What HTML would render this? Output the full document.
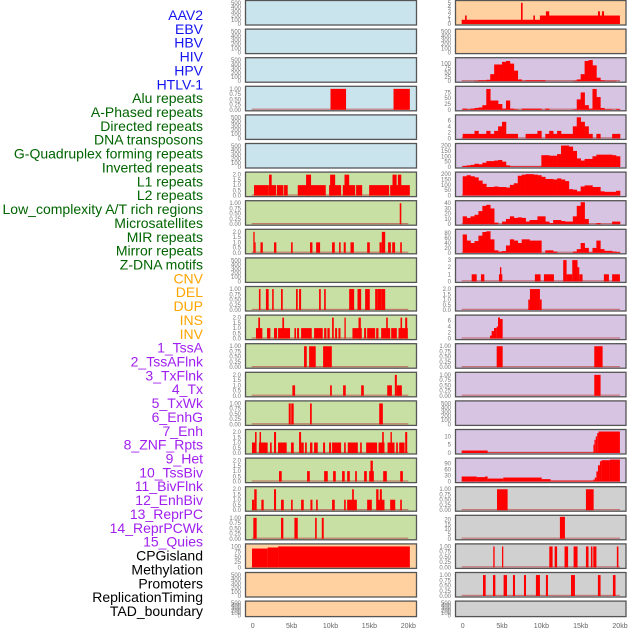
<!DOCTYPE html>
<html><head><meta charset="utf-8"><style>
html,body{margin:0;padding:0;background:#fff;width:630px;height:630px;overflow:hidden}
svg{display:block;font-family:"Liberation Sans",sans-serif}
</style></head><body>
<svg id="chart" width="630" height="630" viewBox="0 0 630 630"></svg>
<script>
const trackNames=["AAV2","EBV","HBV","HIV","HPV","HTLV-1","Alu repeats","A-Phased repeats","Directed repeats","DNA transposons","G-Quadruplex forming repeats","Inverted repeats","L1 repeats","L2 repeats","Low_complexity A/T rich regions","Microsatellites","MIR repeats","Mirror repeats","Z-DNA motifs","CNV","DEL","DUP","INS","INV","1_TssA","2_TssAFlnk","3_TxFlnk","4_Tx","5_TxWk","6_EnhG","7_Enh","8_ZNF_Rpts","9_Het","10_TssBiv","11_BivFlnk","12_EnhBiv","13_ReprPC","14_ReprPCWk","15_Quies","CPGisland","Methylation","Promoters","ReplicationTiming","TAD_boundary"];
const trackGroups=["v","v","v","v","v","v","r","r","r","r","r","r","r","r","r","r","r","r","r","s","s","s","s","s","c","c","c","c","c","c","c","c","c","c","c","c","c","c","c","o","o","o","o","o"];
const xTickValues=[0,5,10,15,20];
const xTickLabels=["0","5kb","10kb","15kb","20kb"];
// left column interval data [startKb,endKb,value]
const L3=[[10.0,12.0,1],[18.1,20.2,1]];
const L6=[[0.17,1.99,1],[2.1,2.44,2],[1.99,3.0,1],[3.1,3.95,1],[4.03,4.5,1],[5.79,9.39,1],[6.86,7.5,2],[9.82,11.36,1],[9.95,10.6,2],[11.58,13.17,1],[11.8,12.4,2],[13.29,14.07,1],[14.97,17.54,1],[17.67,20.2,1],[17.97,18.5,2],[18.66,19.1,2]];
const L7=[[18.9,19.1,1]];
const L8=[[0.08,0.25,2],[0.25,0.38,1],[1.0,1.3,1],[2.74,3.04,1],[4.93,5.14,1],[7.37,7.68,1],[8.15,8.66,1],[10.2,10.55,1],[11.1,11.3,1],[11.7,11.96,1],[12.57,13.0,1],[14.71,15.05,1],[16.3,16.6,1],[16.6,17.03,2],[17.4,17.76,1],[17.93,18.3,1],[18.96,19.17,1]];
const L10=[[0.8,1.0,1],[1.7,2.05,1],[2.5,2.7,1],[3.64,3.86,1],[5.57,5.79,1],[5.96,6.22,1],[8.53,8.75,1],[9.18,9.39,1],[12.4,13.04,1],[13.47,13.94,1],[14.45,15.05,1],[15.74,16.08,1],[16.08,16.6,1],[16.6,17.03,1]];
const L11=[[0.42,1.24,1],[0.72,0.94,2],[1.84,2.27,1],[2.74,3.13,1],[3.26,4.8,1],[3.81,4.03,2],[5.36,5.57,1],[5.7,5.96,1],[6.22,7.59,1],[7.89,9.0,1],[9.18,9.48,1],[9.6,9.9,1],[10.2,10.42,2],[10.59,10.85,1],[11.02,11.28,1],[11.79,11.96,2],[12.82,14.02,1],[13.6,13.9,2],[14.32,14.58,1],[14.71,15.74,1],[15.87,16.17,1],[16.51,17.67,1],[17.16,17.37,2],[17.8,18.53,1],[18.74,19.94,1],[19.0,19.2,2],[19.6,19.86,2]];
const L12=[[6.6,6.95,1],[7.25,8.1,1],[9.05,10.17,1]];
const L13=[[5.1,5.45,1],[9.95,10.17,1],[11.62,11.96,1],[13.94,14.28,1],[17.29,17.89,1],[18.27,18.53,2],[18.53,19.17,1]];
const L14=[[4.63,4.89,1],[4.95,5.27,1],[7.37,7.59,1],[16.26,16.73,1]];
const L15=[[-0.09,0.3,1],[0.3,0.5,2],[0.8,1.92,1],[0.88,1.07,2],[2.23,2.44,1],[2.74,3.0,2],[3.26,4.37,1],[4.93,5.27,1],[5.96,6.22,2],[6.22,6.56,1],[6.73,6.95,1],[7.37,7.68,1],[7.89,8.36,1],[9.05,9.3,1],[9.82,10.08,1],[10.2,11.36,1],[11.75,11.96,1],[12.22,13.51,1],[13.81,14.02,1],[14.58,15.99,1],[16.17,16.94,1],[16.64,16.85,2],[17.33,18.23,1],[17.71,17.89,2],[18.44,18.66,1],[18.83,19.52,1],[19.6,19.86,2]];
const L16=[[3.38,3.73,1],[6.99,7.34,1],[9.18,9.65,1],[10.33,10.68,1],[11.49,11.83,1],[12.14,12.48,1],[13.17,13.39,1],[14.32,14.67,1],[14.97,15.57,1],[15.14,15.44,2],[16.77,17.24,1],[18.96,19.3,1]];
const L17=[[-0.09,0.2,1],[0.2,0.51,2],[1.11,1.41,1],[2.74,3.0,2],[3.64,3.99,1],[4.93,5.14,1],[6.22,6.56,1],[7.42,7.68,1],[8.15,8.36,1],[10.2,10.55,1],[11.75,11.96,1],[12.14,13.39,1],[12.78,13.0,2],[14.71,15.31,1],[15.87,16.17,2],[16.17,16.94,1],[16.34,16.6,2],[17.67,18.32,1],[18.96,19.17,1]];
const L18=[[0.08,0.51,1],[3.64,3.94,1],[5.36,5.79,1],[8.02,8.23,1],[8.88,9.13,1]];
const L19=[[-0.09,1.92,90],[1.92,3.26,95],[3.26,20.2,100]];
// right column data
const R0=[[-0.13,19.99,1],[0.3,0.51,2],[7.41,7.62,5],[8.98,9.19,2],[9.82,19.99,2],[10.58,11.0,3],[17.2,17.45,3],[17.7,17.97,3]];
const R2=[0,0,0,2,5,5,8,40,95,95,110,115,100,60,10,2,5,5,5,5,5,0,0,0,0,0,0,0,2,10,40,115,120,90,20,5,2,2,2,0];
const R3=[5,2,5,8,10,20,90,40,40,25,5,40,5,2,0,5,5,5,5,5,0,5,0,0,0,0,0,0,2,45,75,20,5,90,55,8,2,2,0,3];
const R4=[1.5,1.5,1.5,2.5,1.5,1.5,2.5,1.5,2.5,4,5.5,1.5,1.5,1.5,0,0,1.5,1.5,1.5,2.5,0,1.5,2.5,1.5,2.5,1.5,1.5,1.5,4,7,5.5,4,1.5,0,1.5,0,0,0,1.5,1.5];
const R5=[10,15,20,30,25,40,55,55,60,65,50,15,5,5,5,5,5,5,5,5,110,110,105,105,120,200,200,190,150,80,60,75,75,100,115,115,115,115,110,100];
const R6=[180,190,180,170,140,110,80,80,85,80,80,75,100,115,185,195,200,200,195,190,175,155,155,150,160,150,135,60,55,40,85,95,95,80,80,40,35,35,35,45];
const R7=[15,12,15,18,25,35,37,30,3,0,5,10,15,12,13,12,5,8,8,15,15,5,2,8,8,6,5,5,15,35,42,10,0,0,2,0,0,0,5,5];
const R8=[75,50,40,48,70,85,88,55,10,5,7,30,55,50,40,55,55,50,50,50,0,10,10,5,0,0,0,0,5,15,40,20,2,20,50,15,8,8,5,3];
const R9=[[1.14,1.78,1],[2.32,2.75,1],[4.61,5.04,1],[4.74,4.91,2],[9.18,9.9,1],[10.33,11.6,1],[12.78,13.21,3],[13.21,13.93,1],[13.93,14.6,3],[14.6,14.82,2],[14.82,15.24,1],[17.95,18.59,1],[19.0,19.99,1]];
const R10=[[8.34,8.55,1],[8.55,9.82,2],[9.82,10.04,1]];
const R11=[[3.47,3.68,1],[3.68,3.98,2.5],[3.98,4.32,3.5],[4.32,4.49,4],[4.49,4.74,7],[4.74,5.08,6.5]];
const R12=[[4.32,5.08,1],[16.73,17.79,1]];
const R13=[[16.73,17.53,1]];
const R15=[[-0.13,3.17,1.5],[3.17,16.62,0.3],[16.62,16.75,5],[16.75,16.92,8],[16.92,17.1,10],[17.1,17.27,12],[17.27,19.99,13]];
const R16=[[-0.13,1.78,25],[1.78,2.83,22],[2.83,3.17,25],[3.17,5.16,15],[5.16,10.04,20],[10.04,11.18,12],[11.18,16.6,5],[16.6,16.8,10],[16.8,17.0,20],[17.0,17.2,50],[17.2,17.45,80],[17.45,17.66,100],[17.66,18.72,105],[18.72,19.99,108]];
const R17=[[4.36,5.71,1],[15.67,16.65,1]];
const R18=[[12.36,13.0,23]];
const R19=[[3.89,4.06,1],[5.0,5.16,1],[11.01,11.43,1],[11.69,12.0,1],[12.95,13.4,1],[14.1,14.6,1],[15.67,16.0,1],[16.3,16.5,1],[16.6,17.0,1],[19.6,19.8,1]];
const R20=[[2.58,2.92,1],[3.85,4.15,1],[5.2,5.63,1],[6.39,6.65,1],[7.79,8.05,1],[9.31,9.82,1],[10.58,10.84,1],[13.77,14.27,1],[17.19,17.53,1],[19.1,19.43,1]];

const T500=[0,100,200,300,400,500], T1=[0,0.25,0.5,0.75,1], T2=[0,0.5,1,1.5,2];
const BG={b:"#c9e4ec",g:"#c8e0a4",o:"#ffd0a0",p:"#d6c4e2",y:"#d0d0d0"};
const leftCol=[
 ["b",T500,525,null],["b",T500,525,null],["b",T500,525,null],["b",T1,1.05,L3],["b",T500,525,null],["b",T500,525,null],
 ["g",T2,2.1,L6],["g",T1,1.05,L7],["g",T2,2.1,L8],["g",T500,525,null],["g",T1,1.05,L10],["g",T2,2.1,L11],["g",T1,1.05,L12],
 ["g",T2,2.1,L13],["g",T1,1.05,L14],["g",T2,2.1,L15],["g",T2,2.1,L16],["g",T2,2.1,L17],["g",T1,1.05,L18],
 ["o",[0,25,50,75,100],105,L19],["o",T500,525,null],["o",T500,525,null]];
const rightCol=[
 ["o",[0,1,2,3,4,5],5.2,R0],["o",T500,525,null],["p",[0,25,50,75,100],125,R2],["p",[0,25,50,75],95,R3],["p",[0,2,4,6],7.3,R4],
 ["p",[0,50,100,150,200],205,R5],["p",[0,50,100,150,200],205,R6],["p",[0,10,20,30,40],42,R7],["p",[0,20,40,60,80],90,R8],
 ["p",[0,1,2,3],3.1,R9],["p",T2,2.1,R10],["p",[0,2,4,6],7.3,R11],["p",T1,1.05,R12],["p",T1,1.05,R13],["p",T500,525,null],
 ["p",[0,5,10],13.3,R15],["p",[0,30,60,90],108,R16],["y",T1,1.05,R17],["y",[0,5,10,15,20],23,R18],["y",T1,1.05,R19],["y",T1,1.05,R20],["y",T500,525,null]];

const NS="http://www.w3.org/2000/svg";
const svg=document.getElementById('chart');
function mk(tag,attrs,parent){const e=document.createElementNS(NS,tag);for(const k in attrs)e.setAttribute(k,attrs[k]);(parent||svg).appendChild(e);return e;}
const groupColor={v:"#1414f0",r:"#006400",s:"#ffa500",c:"#a020f0",o:"#000000"};
trackNames.forEach((n,i)=>{
 const t=mk('text',{x:203,y:(15+13.86*i+5).toFixed(1),'text-anchor':'end','font-size':'14',fill:groupColor[trackGroups[i]]});
 t.textContent=n;
 
 
});
function fmt(v,ticks){const m=Math.max(...ticks);if(m===1)return v.toFixed(2);if(m===2)return v.toFixed(1);return String(v);}
function drawCol(col,x0,x1,xa,xb,tickX,side){
 const xs=kb=>xa+(kb/20)*(xb-xa);
 col.forEach((p,i)=>{
  const [bg,ticks,ymax,data]=p;
  const top=0.5+28.6*i, h=(i===21)?15.5:24.5;
  const g=mk('g',{});
  
  
  mk('rect',{x:x0,y:top,width:x1-x0,height:h,fill:BG[bg]},g);
  const y0=top+h-1, yt=top+1.5;
  const ys=v=>y0-(v/ymax)*(y0-yt);
  ticks.forEach(tv=>{
   const t=mk('text',{x:tickX,y:(ys(tv)+2).toFixed(1),'text-anchor':'end','font-size':'6',fill:'#777'},g);
   t.textContent=fmt(tv,ticks);
   
   
  });
  if(data){
   mk('rect',{x:xs(0)-1,y:y0-1.2,width:xs(20)-xs(0)+1,height:1.2,fill:'#c05050',opacity:0.7},g);
   if(typeof data[0]==='number'){
    data.forEach((v,j)=>{
     if(v<=0)return;
     const r=mk('rect',{x:xs(j*0.5).toFixed(2),y:ys(v).toFixed(2),width:(xs(0.5)-xs(0)+0.3).toFixed(2),height:(y0-ys(v)).toFixed(2),fill:'#ff0000'},g);
     
     
    });
   } else {
    data.forEach(d=>{
     const r=mk('rect',{x:xs(d[0]).toFixed(2),y:ys(d[2]).toFixed(2),width:Math.max(0.8,xs(d[1])-xs(d[0])).toFixed(2),height:(y0-ys(d[2])).toFixed(2),fill:'#ff0000'},g);
     
     
    });
   }
  }
  mk('rect',{x:x0,y:top,width:x1-x0,height:h,fill:'none',stroke:'#555','stroke-width':1.3},g);
 });
 xTickValues.forEach((v,k)=>{
  const t=mk('text',{x:xs(v).toFixed(1),y:628,'text-anchor':'middle','font-size':'7',fill:'#666'});
  t.textContent=xTickLabels[k];
  
  
 });
}
drawCol(leftCol,245.5,416.5,252.7,408.3,241,'left');
drawCol(rightCol,455.5,626,462.7,620,451,'right');
</script>
</body></html>
